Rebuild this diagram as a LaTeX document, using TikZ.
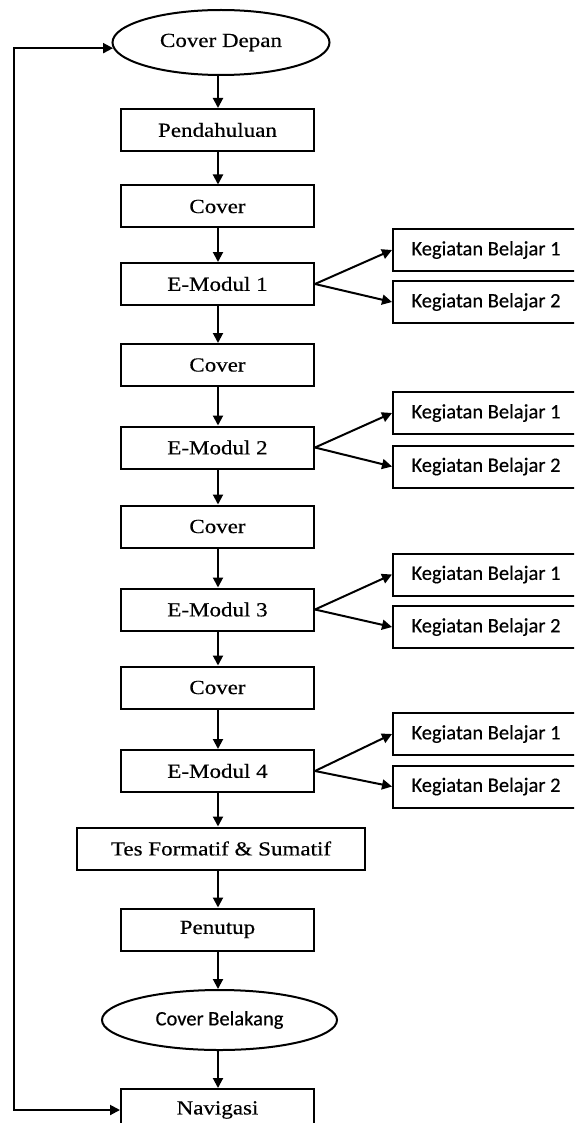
\documentclass[tikz,border=0pt]{standalone}
\usepackage{fontspec}
\setmainfont{Liberation Serif}
\newfontfamily\serifwide[FakeStretch=1.15,FakeBold=0.4]{Liberation Serif}
\newfontfamily\kbfont[FakeBold=0.4]{Carlito}
\usetikzlibrary{shapes.geometric,arrows.meta}
\begin{document}
\begin{tikzpicture}[x=1pt,y=-1pt,
  mainbox/.style={draw,line width=2pt,minimum width=193pt,minimum height=42pt,inner sep=0pt,font=\serifwide\fontsize{20}{22}\selectfont},
  kbbox/.style={draw,line width=2pt,minimum width=186pt,minimum height=42pt,inner sep=0pt,font=\kbfont\fontsize{20.5}{22}\selectfont},
  oval/.style={draw,ellipse,line width=2pt,inner sep=0pt},
  arr/.style={line width=2pt,-{Triangle[length=10pt,width=10pt]}},
  arrboth/.style={line width=2pt,{Triangle[length=10pt,width=10pt]}-{Triangle[length=10pt,width=10pt]}}]
\useasboundingbox (0,0) rectangle (574,1123);
\fill[white] (0,0) rectangle (574,1123);
\clip (0,0) rectangle (574,1123);
\coordinate (ax) at (218,0);
\coordinate (lp) at (14,0);
% main column
\node[oval,minimum width=217pt,minimum height=65pt,font=\serifwide\fontsize{20}{22}\selectfont] (cd) at (221,42.5) {Cover Depan};
\node[mainbox] (pend) at (217.5,130) {Pendahuluan};
\node[mainbox] (cov1) at (217.5,206.5) {Cover};
\node[mainbox] (em1) at (217.5,284) {E-Modul 1};
\node[mainbox] (cov2) at (217.5,365) {Cover};
\node[mainbox] (em2) at (217.5,447.5) {E-Modul 2};
\node[mainbox] (cov3) at (217.5,526.5) {Cover};
\node[mainbox] (em3) at (217.5,609.5) {E-Modul 3};
\node[mainbox] (cov4) at (217.5,687.5) {Cover};
\node[mainbox] (em4) at (217.5,771) {E-Modul 4};
\node[mainbox,minimum width=288pt] (tes) at (221,848.5) {Tes Formatif \& Sumatif};
\node[mainbox] (pen) at (217.5,929.5) {Penutup};
\node[oval,minimum width=235pt,minimum height=60pt,font=\kbfont\fontsize{20.5}{22}\selectfont] (cb) at (219.5,1020) {Cover Belakang};
\node[mainbox] (nav) at (217.5,1110) {Navigasi};
% kegiatan belajar boxes
\node[kbbox] (k11) at (486,250) {Kegiatan Belajar 1};
\node[kbbox] (k12) at (486,302) {Kegiatan Belajar 2};
\node[kbbox] (k21) at (486,413) {Kegiatan Belajar 1};
\node[kbbox] (k22) at (486,466.5) {Kegiatan Belajar 2};
\node[kbbox] (k31) at (486,574.5) {Kegiatan Belajar 1};
\node[kbbox] (k32) at (486,627) {Kegiatan Belajar 2};
\node[kbbox] (k41) at (486,734) {Kegiatan Belajar 1};
\node[kbbox] (k42) at (486,786.5) {Kegiatan Belajar 2};
% vertical arrows
\foreach \a/\b in {cd/pend,pend/cov1,cov1/em1,em1/cov2,cov2/em2,em2/cov3,cov3/em3,em3/cov4,cov4/em4,em4/tes,tes/pen,pen/cb,cb/nav}
  \draw[arr] (\a.south -| ax) -- (\b.north -| ax);
% branch arrows
\foreach \m/\k in {em1/k11,em1/k12,em2/k21,em2/k22,em3/k31,em3/k32,em4/k41,em4/k42}
  \draw[arr] (\m.east) -- (\k.west);
% feedback loop
\draw[arrboth] (nav.west) -- (nav.west -| lp) -- (lp |- cd.183.5) -- (cd.183.5);
\end{tikzpicture}
\end{document}
